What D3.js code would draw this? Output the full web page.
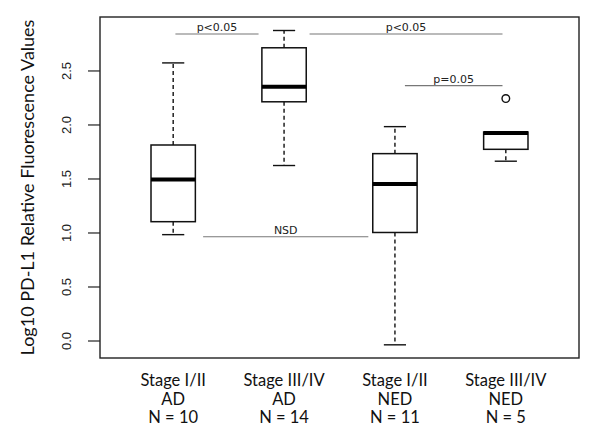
<!DOCTYPE html>
<html>
<head>
<meta charset="utf-8">
<script src="https://cdn.jsdelivr.net/npm/d3@7"></script>
<style>
  html, body { margin: 0; padding: 0; background: #fff; }
  svg { display: block; }
</style>
</head>
<body>
<svg id="chart" width="600" height="430"></svg>
<script>
// ---- data ----
const stages = ["Stage I/II", "Stage III/IV", "Stage I/II", "Stage III/IV"];
const groups = ["AD", "AD", "NED", "NED"];
const counts = ["N = 10", "N = 14", "N = 11", "N = 5"];
const whiskerLow  = [0.98, 1.62, -0.04, 1.66];
const q1          = [1.10, 2.21, 1.00, 1.77];
const medians     = [1.49, 2.35, 1.45, 1.92];
const q3          = [1.81, 2.71, 1.73, 1.93];
const whiskerHigh = [2.57, 2.87, 1.98, 1.93];
const outliers    = [[], [], [], [2.24]];
const yTicks = [0, 0.5, 1.0, 1.5, 2.0, 2.5];
const yTitle = "Log10 PD-L1 Relative Fluorescence Values";
// significance annotations: x from/to in group-position units, y in data units
const sigLabels = ["p<0.05", "p<0.05", "p=0.05", "NSD"];
const sigFrom   = [1.02, 2.23, 3.09, 1.27];
const sigTo     = [1.77, 3.97, 3.97, 2.76];
const sigY      = [2.838, 2.838, 2.36, 0.961];

// ---- layout ----
const svg = d3.select("#chart");
const plot = { left: 100, right: 579, top: 17, bottom: 358 };
const x = d3.scaleLinear().domain([0.34, 4.66]).range([plot.left, plot.right]);
const y = d3.scaleLinear().domain([-0.162, 2.995]).range([plot.bottom, plot.top]);
const idx = d3.range(stages.length);
const boxHalf = 0.2; // in x units

// frame
svg.append("rect")
  .attr("x", plot.left).attr("y", plot.top)
  .attr("width", plot.right - plot.left).attr("height", plot.bottom - plot.top)
  .attr("fill", "none").attr("stroke", "#222").attr("stroke-width", 1.4);

// y axis
const yAxis = d3.axisLeft(y).tickValues(yTicks).tickFormat(d3.format(".1f")).tickSize(12).tickPadding(0);
const yg = svg.append("g").attr("transform", `translate(${plot.left},0)`).call(yAxis);
yg.select(".domain").remove();
yg.selectAll(".tick line").attr("stroke", "#222").attr("stroke-width", 1.2);
yg.selectAll(".tick text").remove();
yg.selectAll(".tick").append("text")
  .attr("transform", "translate(-29,0) rotate(-90)")
  .attr("text-anchor", "middle")
  .attr("fill", "#222")
  .style("font-family", "'Liberation Sans', Arial, sans-serif")
  .style("font-size", "13px")
  .text(d => d3.format(".1f")(d));

// y title
svg.append("text")
  .attr("transform", `translate(33.5,${(plot.top + plot.bottom) / 2}) rotate(-90)`)
  .attr("text-anchor", "middle")
  .attr("fill", "#111")
  .style("font-family", "Lato, 'Open Sans', sans-serif")
  .style("font-size", "18px")
  .text(yTitle);

// whiskers
const g = svg.append("g");
const dash = "4,3";
g.selectAll(".wu").data(idx).join("line")
  .attr("x1", i => x(i + 1)).attr("x2", i => x(i + 1))
  .attr("y1", i => y(q3[i])).attr("y2", i => y(whiskerHigh[i]))
  .attr("stroke", "#111").attr("stroke-width", 1.4).attr("stroke-dasharray", dash);
g.selectAll(".wl").data(idx).join("line")
  .attr("x1", i => x(i + 1)).attr("x2", i => x(i + 1))
  .attr("y1", i => y(q1[i])).attr("y2", i => y(whiskerLow[i]))
  .attr("stroke", "#111").attr("stroke-width", 1.4).attr("stroke-dasharray", dash);
// caps
const capHalf = 0.1;
[whiskerHigh, whiskerLow].forEach(arr => {
  g.append("g").selectAll("line").data(idx).join("line")
    .attr("x1", i => x(i + 1 - capHalf)).attr("x2", i => x(i + 1 + capHalf))
    .attr("y1", i => y(arr[i])).attr("y2", i => y(arr[i]))
    .attr("stroke", "#111").attr("stroke-width", 1.4);
});
// boxes
g.append("g").selectAll("rect").data(idx).join("rect")
  .attr("x", i => x(i + 1 - boxHalf))
  .attr("width", i => x(i + 1 + boxHalf) - x(i + 1 - boxHalf))
  .attr("y", i => y(q3[i]))
  .attr("height", i => y(q1[i]) - y(q3[i]))
  .attr("fill", "#fff").attr("stroke", "#111").attr("stroke-width", 1.5);
// medians
g.append("g").selectAll("line").data(idx).join("line")
  .attr("x1", i => x(i + 1 - boxHalf)).attr("x2", i => x(i + 1 + boxHalf))
  .attr("y1", i => y(medians[i])).attr("y2", i => y(medians[i]))
  .attr("stroke", "#000").attr("stroke-width", 4);
// outliers
const outPts = idx.flatMap(i => outliers[i].map(v => ({ i, v })));
g.append("g").selectAll("circle").data(outPts).join("circle")
  .attr("cx", d => x(d.i + 1)).attr("cy", d => y(d.v)).attr("r", 3.8)
  .attr("fill", "none").attr("stroke", "#111").attr("stroke-width", 1.4);

// significance annotations
const sidx = d3.range(sigLabels.length);
const sg = svg.append("g");
sg.selectAll("line").data(sidx).join("line")
  .attr("x1", i => x(sigFrom[i])).attr("x2", i => x(sigTo[i]))
  .attr("y1", i => y(sigY[i])).attr("y2", i => y(sigY[i]))
  .attr("stroke", "#777").attr("stroke-width", 1.1);
sg.selectAll("text").data(sidx).join("text")
  .attr("x", i => (x(sigFrom[i]) + x(sigTo[i])) / 2)
  .attr("y", i => y(sigY[i]) - 3)
  .attr("text-anchor", "middle")
  .attr("fill", "#222")
  .style("font-family", "'DejaVu Sans', Verdana, sans-serif")
  .style("font-size", "11px")
  .text(i => sigLabels[i]);

// x labels
const xl = svg.append("g").selectAll("text").data(idx).join("text")
  .attr("text-anchor", "middle")
  .attr("fill", "#111")
  .style("font-family", "Lato, 'Open Sans', sans-serif")
  .style("font-size", "16.5px");
xl.append("tspan").attr("x", i => x(i + 1)).attr("y", 386).text(i => stages[i]);
xl.append("tspan").attr("x", i => x(i + 1)).attr("y", 404.5).text(i => groups[i]);
xl.append("tspan").attr("x", i => x(i + 1)).attr("y", 423).text(i => counts[i]);
</script>
</body>
</html>
